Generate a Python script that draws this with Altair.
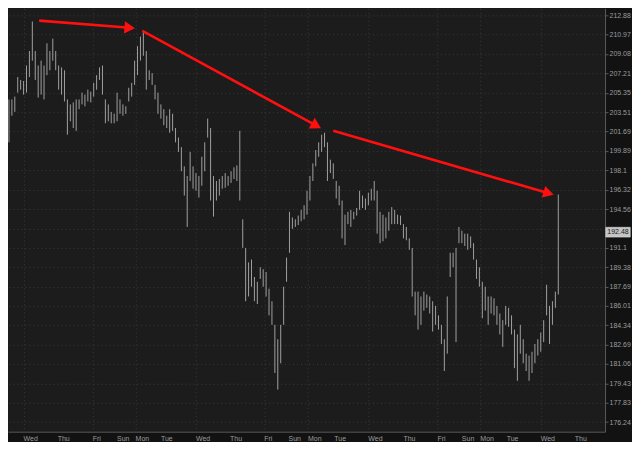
import altair as alt
import pandas as pd

# ---- bar highs / lows (price), one bar per interval ----
highs = [
    204.71, 204.71, 204.98, 206.85, 206.57, 206.47, 207.96, 209.36, 212.25, 209.36,
    207.96, 208.43, 207.96, 210.11, 209.36, 210.57, 209.36, 207.96, 207.78, 207.50,
    204.71, 204.24, 204.43, 204.71, 204.71, 205.36, 205.17, 205.64, 205.45, 206.29,
    207.03, 207.78, 207.96, 204.71, 204.24, 203.53, 203.35, 205.36, 204.71, 204.24,
    204.06, 205.82, 206.29, 208.43, 209.83, 210.76, 211.41, 209.36, 207.50, 207.22,
    206.10, 205.36, 204.24, 203.79, 203.17, 203.79, 203.35, 202.01, 201.12, 200.23,
    198.45, 197.56, 199.79, 198.45, 197.83, 197.56, 199.34, 200.68, 202.90, 202.01,
    197.56, 197.11, 197.29, 197.56, 197.83, 197.56, 198.00, 198.36, 198.54, 201.75,
    193.63, 191.08, 189.80, 190.05, 188.52, 188.10, 189.37, 189.20, 188.95, 187.50,
    186.41, 184.38, 183.15, 184.38, 187.67, 190.22, 194.31, 193.80, 193.63, 193.97,
    194.48, 194.90, 196.22, 197.56, 198.72, 199.96, 200.68, 201.39, 201.57, 200.68,
    199.07, 198.72, 197.11, 196.67, 195.33, 194.05, 194.31, 194.48, 194.31, 194.65,
    196.22, 195.78, 195.51, 196.04, 196.40, 197.11, 196.22, 194.31, 194.05, 193.80,
    194.31, 194.73, 194.48, 194.05, 193.97, 193.20, 192.95, 191.93, 191.08, 187.24,
    187.24, 186.82, 187.24, 186.99, 186.82, 186.41, 186.01, 185.19, 184.38, 183.15,
    186.82, 190.65, 190.65, 191.08, 192.95, 192.61, 192.35, 192.35, 192.10, 191.50,
    190.05, 189.37, 188.10, 187.67, 186.82, 186.82, 186.66, 186.01, 185.35, 184.78,
    186.01, 185.84, 185.19, 183.97, 183.56, 184.38, 183.15, 181.93, 181.77, 182.09,
    182.75, 183.15, 183.72, 184.78, 187.84, 186.01, 186.41, 187.24, 195.87,
]
lows = [
    200.68, 203.17, 203.53, 205.36, 205.64, 205.17, 205.36, 206.85, 208.43, 206.57,
    204.89, 205.17, 204.71, 207.03, 207.50, 208.43, 207.50, 205.64, 205.17, 204.52,
    201.39, 202.64, 202.01, 201.75, 203.79, 204.24, 204.06, 204.52, 204.43, 204.98,
    205.64, 206.57, 205.17, 202.46, 202.64, 202.46, 202.46, 202.64, 203.35, 203.17,
    203.35, 204.52, 204.98, 206.10, 207.03, 208.43, 208.90, 205.64, 206.57, 206.10,
    204.71, 203.35, 202.90, 202.28, 202.01, 201.57, 201.75, 200.68, 199.79, 198.00,
    195.78, 192.95, 197.11, 196.40, 196.22, 195.60, 196.67, 198.00, 201.12, 195.33,
    193.88, 195.33, 195.78, 196.40, 196.49, 196.67, 196.93, 197.29, 197.11, 195.33,
    191.08, 186.41, 186.82, 187.67, 186.41, 186.17, 188.35, 187.67, 186.82, 185.19,
    184.38, 180.30, 178.92, 181.12, 184.38, 188.10, 190.65, 192.78, 192.95, 193.12,
    193.46, 193.63, 194.05, 195.33, 197.11, 198.45, 199.34, 199.79, 200.23, 197.11,
    197.83, 197.29, 195.51, 194.90, 191.93, 191.33, 193.20, 192.95, 193.63, 193.97,
    194.48, 194.65, 194.48, 194.90, 195.33, 195.33, 192.35, 191.50, 191.67, 191.93,
    192.61, 193.20, 193.20, 193.20, 193.12, 191.93, 191.76, 190.91, 186.82, 185.19,
    183.97, 184.38, 185.60, 185.84, 185.35, 183.80, 184.38, 183.97, 182.75, 180.47,
    181.93, 188.52, 189.37, 182.91, 191.50, 191.50, 191.25, 190.91, 191.08, 190.05,
    188.35, 187.67, 184.94, 185.60, 184.38, 185.35, 185.19, 184.38, 183.56, 182.50,
    184.38, 184.21, 183.56, 180.71, 179.65, 181.93, 181.12, 180.47, 179.65, 180.30,
    181.12, 181.77, 182.09, 182.91, 185.19, 182.75, 184.38, 185.84, 186.99,
]
last_price = [192.48]

# ---- axis ticks ----
price_ticks = [212.88, 210.97, 209.08, 207.21, 205.35, 203.51, 201.69, 199.89, 198.1,
               196.32, 194.56, 192.8, 191.1, 189.38, 187.69, 186.01, 184.34, 182.69,
               181.06, 179.43, 177.83, 176.24]
day_ticks = [5, 16.67, 28.67, 37, 43.33, 52, 64, 75.67, 87.33, 95.67, 102.33, 111.33,
             123, 135, 146.67, 155, 161.33, 170.33, 182, 193.67]
day_names = ["Wed", "Thu", "Fri", "Sun", "Mon", "Tue", "Wed", "Thu", "Fri", "Sun",
             "Mon", "Tue", "Wed", "Thu", "Fri", "Sun", "Mon", "Tue", "Wed", "Thu"]

# ---- trend arrows (bar index, price) ----
arrow_x1 = [10.33, 45.67, 111.0]
arrow_y1 = [212.34, 211.32, 201.75]
arrow_x2 = [41.33, 105.2, 184.7]
arrow_y2 = [211.63, 202.23, 195.99]
arrow_angle = [4.7, 28.9, 16.3]

W, H = 598, 424
X_DOMAIN = [-0.33, 204]
Y_DOMAIN = [175.46, 213.55]
LABEL_FONT = "Liberation Sans Narrow, Liberation Sans"

bars = pd.DataFrame({"i": list(range(len(highs))), "high": highs, "low": lows})
arrows = pd.DataFrame({"x1": arrow_x1, "y1": arrow_y1, "x2": arrow_x2, "y2": arrow_y2,
                       "angle": arrow_angle})
last = pd.DataFrame({"price": last_price, "label": [f"{p:.2f}" for p in last_price]})
days = pd.DataFrame({"t": day_ticks, "name": day_names})

xscale = alt.Scale(domain=X_DOMAIN, nice=False, zero=False)
yscale = alt.Scale(type="log", domain=Y_DOMAIN, nice=False, zero=False)

x_axis = alt.Axis(values=day_ticks, labels=False, title=None, orient="bottom",
                  ticks=False, grid=True)
y_axis = alt.Axis(values=price_ticks, title=None, orient="right",
                  labelExpr="datum.value == 192.8 ? '' : format(datum.value, '~f')",
                  tickSize=3, labelPadding=1, grid=True, labelOverlap=False,
                  labelFlush=False, labelBaseline="middle")

bar_layer = alt.Chart(bars).mark_rule(color="#a0a0a0", strokeWidth=1).encode(
    x=alt.X("i:Q", scale=xscale, axis=x_axis),
    y=alt.Y("high:Q", scale=yscale, axis=y_axis),
    y2="low:Q",
)

day_labels = alt.Chart(days).mark_text(color="#9c9c9c", fontSize=7, font=LABEL_FONT,
                                       align="left", baseline="top").encode(
    x=alt.X("t:Q", scale=xscale), y=alt.value(H + 3), text="name:N",
)

arrow_lines = alt.Chart(arrows).mark_rule(color="#ff1010", strokeWidth=2.6).encode(
    x=alt.X("x1:Q", scale=xscale), y=alt.Y("y1:Q", scale=yscale),
    x2="x2:Q", y2="y2:Q",
)
arrow_heads = alt.Chart(arrows).mark_point(shape="triangle-right", filled=True,
                                           color="#ff1010", size=150, opacity=1).encode(
    x=alt.X("x2:Q", scale=xscale), y=alt.Y("y2:Q", scale=yscale),
    angle=alt.Angle("angle:Q", scale=None),
)

box = alt.Chart(last).mark_point(shape="M -1,-0.4 L 1,-0.4 L 1,0.4 L -1,0.4 Z",
                                 filled=True, color="#c4c4c4", size=600, opacity=1,
                                 stroke="#eeeeee", strokeWidth=0.5).encode(
    x=alt.value(W + 13), y=alt.Y("price:Q", scale=yscale),
)
box_text = alt.Chart(last).mark_text(color="#1a1a1a", fontSize=7, font="Liberation Sans",
                                     align="center", baseline="middle").encode(
    x=alt.value(W + 13), y=alt.Y("price:Q", scale=yscale), text="label:N",
)

chart = alt.layer(bar_layer, day_labels, arrow_lines, arrow_heads, box, box_text).properties(
    width=W, height=H, background="#121212", padding=0,
).configure_view(
    fill="#1c1c1c", strokeWidth=0,
).configure_axis(
    domainColor="#5a5a5a", labelColor="#9c9c9c", labelFont=LABEL_FONT,
    labelFontSize=7, gridColor="#3a3a3a", gridDash=[1, 3], gridWidth=1, tickColor="#5a5a5a",
)

chart.save("out.html", embed_options={"renderer": "svg", "actions": False})
